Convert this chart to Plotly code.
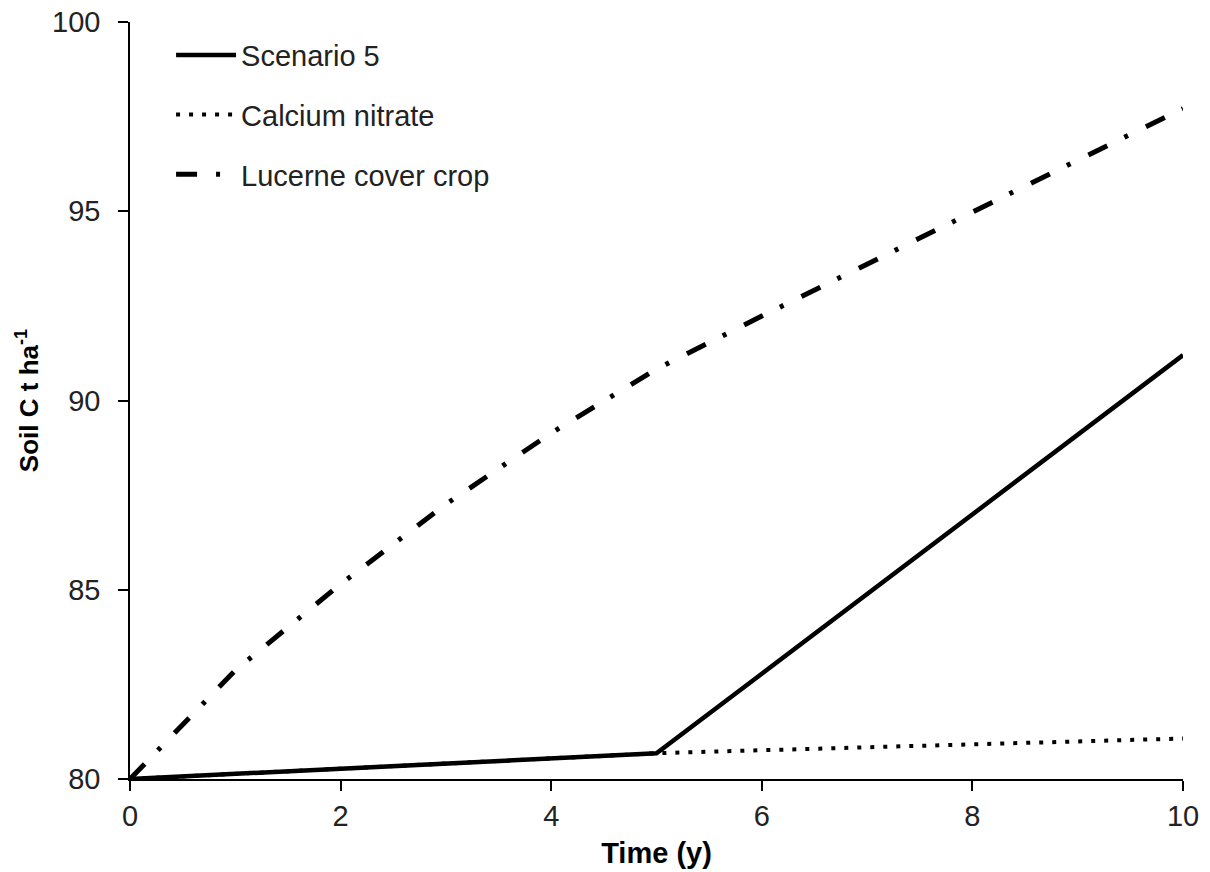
import plotly.graph_objects as go

years = [0, 1, 2, 3, 4, 5, 6, 7, 8, 9, 10]
scenario5 = [80.0, 80.14, 80.28, 80.42, 80.55, 80.68, 82.78, 84.88, 86.98, 89.08, 91.2]
calcium_nitrate = [80.0, 80.14, 80.28, 80.42, 80.55, 80.68, 80.76, 80.84, 80.92, 81.0, 81.07]
lucerne = [80.0, 82.87, 85.15, 87.26, 89.14, 90.83, 92.23, 93.61, 94.98, 96.35, 97.71]

x_ticks = [0, 2, 4, 6, 8, 10]
y_ticks = [80, 85, 90, 95, 100]

FONT = "Liberation Sans, Arial, sans-serif"

fig = go.Figure()
fig.add_trace(go.Scatter(x=years, y=calcium_nitrate, mode="lines", name="Calcium nitrate",
                         legendgroup="b", legendrank=2,
                         line=dict(color="black", width=4, dash="4px,9px")))
fig.add_trace(go.Scatter(x=years, y=lucerne, mode="lines", name="Lucerne cover crop",
                         legendgroup="c", legendrank=3,
                         line=dict(color="black", width=5, dash="21px,19px,4px,20px")))
fig.add_trace(go.Scatter(x=years, y=scenario5, mode="lines", name="Scenario 5",
                         legendgroup="a", legendrank=1,
                         line=dict(color="black", width=4.5)))

fig.update_layout(
    width=1210, height=872,
    margin=dict(l=130, r=27, t=22, b=93),
    paper_bgcolor="white", plot_bgcolor="white",
    font=dict(family=FONT, color="black", size=30),
    showlegend=True,
    legend=dict(x=0.039, y=0.99, xanchor="left", yanchor="top",
                font=dict(size=29, family=FONT, color="#222"),
                bgcolor="rgba(0,0,0,0)", tracegroupgap=19, itemwidth=60,
                traceorder="grouped"),
    xaxis=dict(range=[0, 10], tickvals=x_ticks, ticktext=[str(v) for v in x_ticks],
               automargin=False, ticklabeloverflow="allow",
               showgrid=False, zeroline=False, showline=True, linecolor="black", linewidth=1.5,
               ticks="outside", ticklen=10, tickwidth=1.5, tickcolor="black",
               tickfont=dict(size=29, color="#222"),
               title=dict(text="<b>Time (y)</b>", font=dict(size=29), standoff=12)),
    yaxis=dict(range=[80, 100], tickvals=y_ticks, ticktext=[str(v) for v in y_ticks],
               automargin=False, ticklabeloverflow="allow",
               showgrid=False, zeroline=False, showline=True, linecolor="black", linewidth=1.5,
               ticks="outside", ticklen=10, tickwidth=1.5, tickcolor="black",
               ticklabelstandoff=12,
               tickfont=dict(size=29, color="#222"),
               title=dict(text="<b>Soil C t ha<sup>-1</sup></b>", font=dict(size=26), standoff=6)),
)

# remove the page's default 8px body margin so the figure fills the window exactly
fig.write_html("out.html", config={"displayModeBar": False},
               post_script="document.body.style.margin='0';")
